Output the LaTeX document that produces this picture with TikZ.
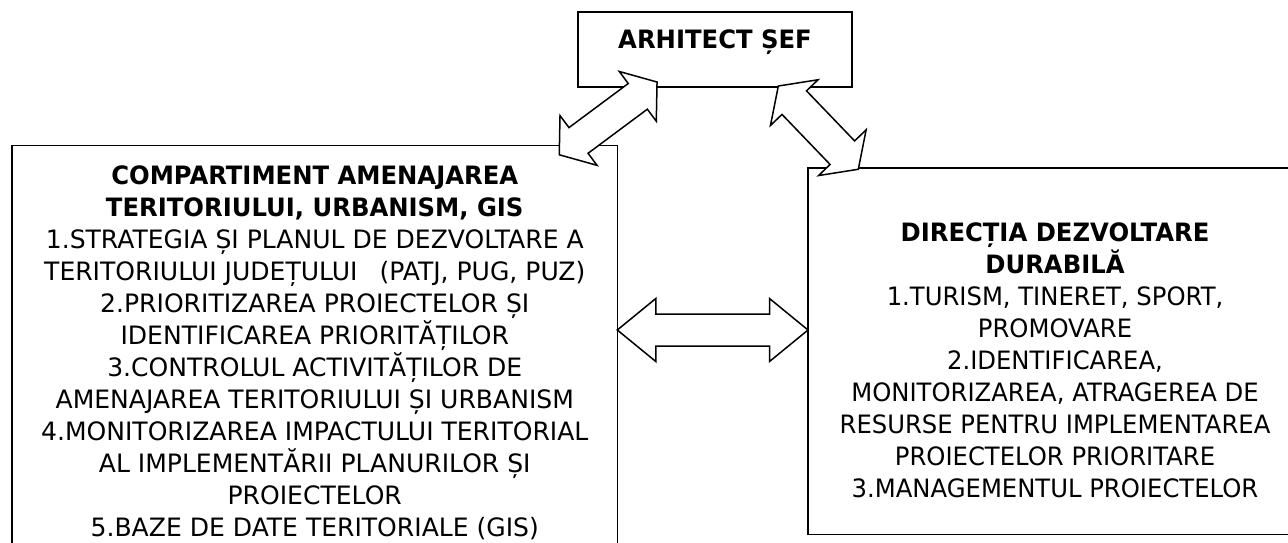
\documentclass[tikz,border=0pt]{standalone}
\usepackage{fontspec}
\setmainfont{DejaVu Sans}[FakeStretch=0.96]
\newfontfamily\widefont{DejaVu Sans}[FakeStretch=0.99]
\usepackage{array}
\usetikzlibrary{calc}
\renewcommand\arraystretch{0}
\newcolumntype{C}{>{\rule[-8pt]{0pt}{32pt}}c}
\newcolumntype{W}{>{\rule[-8pt]{0pt}{32pt}\widefont}c}
\tikzset{
  box/.style={draw=black, line width=1.6pt, inner sep=0pt, outer sep=0pt},
  txt/.style={inner sep=0pt, outer sep=0pt, font=\fontsize{25.3}{32}\selectfont},
  barrow/.style={draw=black, fill=white, line width=1.5pt, line join=miter},
}
% block double arrow between two named points: #3 head length, #4 head half-width, #5 shaft half-width
\newcommand\blockarrow[5]{%
  \draw[barrow] let \p1=(#1), \p2=(#2),
     \n1={atan2(\y2-\y1,\x2-\x1)}, \n2={veclen(\x2-\x1,\y2-\y1)/2} in
     {[shift={($(#1)!0.5!(#2)$)}, rotate=\n1]
     (\n2,0) -- (\n2-#3,#4) -- (\n2-#3,#5) -- (-\n2+#3,#5) -- (-\n2+#3,#4) -- (-\n2,0)
     -- (-\n2+#3,-#4) -- (-\n2+#3,-#5) -- (\n2-#3,-#5) -- (\n2-#3,-#4) -- cycle};%
}
\newcommand\hd[1]{\normalfont\bfseries #1}
\begin{document}
\begin{tikzpicture}[x=1pt,y=-1pt]
\useasboundingbox (0,0) rectangle (1288,542);
\fill[white] (0,0) rectangle (1288,542);
\clip (0,0) rectangle (1288,542);

% boxes
\node[box, minimum width=274pt, minimum height=75pt] (arh) at (715,49.5) {};
\node[box, anchor=north west, minimum width=605.5pt, minimum height=430pt] (cat) at (11.8,145.5) {};
\node[box, anchor=north west, minimum width=520pt, minimum height=366.5pt] (ddd) at (808,168) {};

% texts
\node[txt, anchor=base] (arhT) at (715,48) {\textbf{ARHITECT ȘEF}};
\node[txt, anchor=base] (catT) at (314.75,184) {\begin{tabular}[t]{@{}W@{}}
\hd{COMPARTIMENT AMENAJAREA}\\
\hd{TERITORIULUI, URBANISM, GIS}\\
1.STRATEGIA ȘI PLANUL DE DEZVOLTARE A\\
TERITORIULUI JUDEȚULUI\hspace{22pt}(PATJ, PUG, PUZ)\\
2.PRIORITIZAREA PROIECTELOR ȘI\\
IDENTIFICAREA PRIORITĂȚILOR\\
3.CONTROLUL ACTIVITĂȚILOR DE\\
AMENAJAREA TERITORIULUI ȘI URBANISM\\
4.MONITORIZAREA IMPACTULUI TERITORIAL\\
AL IMPLEMENTĂRII PLANURILOR ȘI\\
PROIECTELOR\\
5.BAZE DE DATE TERITORIALE (GIS)
\end{tabular}};
\node[txt, anchor=base] (dddT) at (1055,241.6) {\begin{tabular}[t]{@{}C@{}}
\textbf{DIRECȚIA DEZVOLTARE}\\
\textbf{DURABILĂ}\\
1.TURISM, TINERET, SPORT,\\
PROMOVARE\\
2.IDENTIFICAREA,\\
MONITORIZAREA, ATRAGEREA DE\\
RESURSE PENTRU IMPLEMENTAREA\\
PROIECTELOR PRIORITARE\\
3.MANAGEMENTUL PROIECTELOR
\end{tabular}};

% connector end points
\coordinate (a1s) at (559.1,154.9);
\coordinate (a1e) at (657.2,81.9);
\coordinate (a2s) at (778.3,86);
\coordinate (a2e) at (858.3,169.3);
\coordinate (hy) at (0,330);
\coordinate (a3s) at (cat.east |- hy);
\coordinate (a3e) at (ddd.west |- hy);

% block arrows
\blockarrow{a1s}{a1e}{24}{31}{16}
\blockarrow{a2s}{a2e}{23}{33}{17}
\blockarrow{a3s}{a3e}{38.5}{31.5}{16}
\end{tikzpicture}
\end{document}
